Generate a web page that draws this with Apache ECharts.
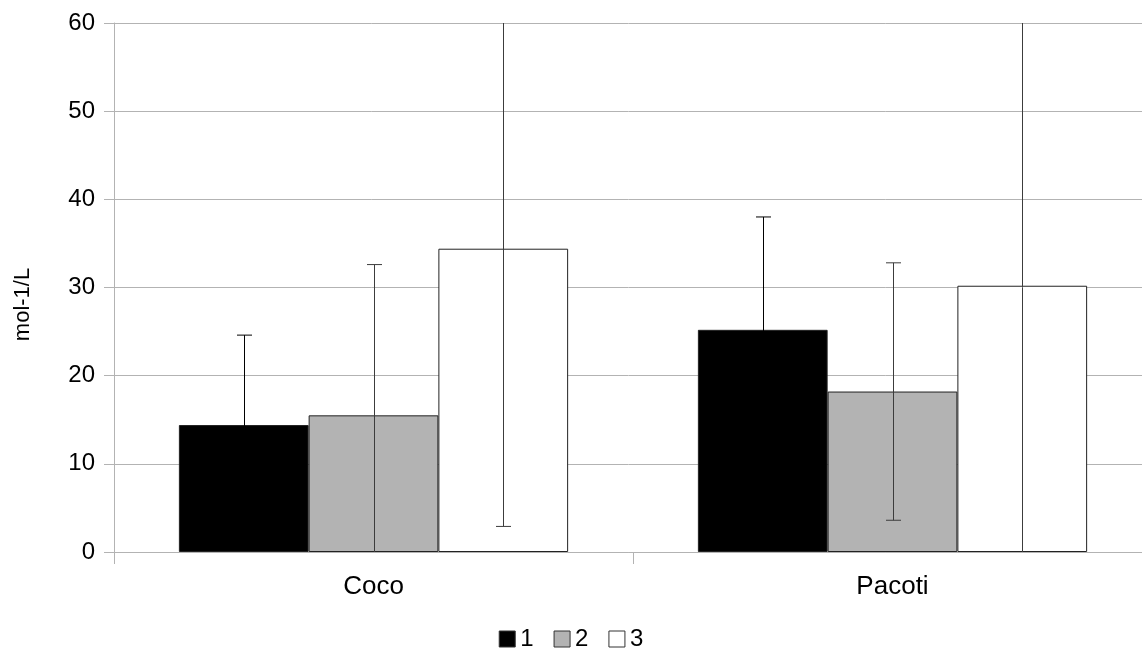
<!DOCTYPE html>
<html><head><meta charset="utf-8">
<script src="https://cdn.jsdelivr.net/npm/echarts@6/dist/echarts.min.js"></script>
<style>html,body{margin:0;padding:0;background:#fff}#c{width:1142px;height:651px}</style>
</head><body><div id="c"></div>
<script>
const categories = ['Coco', 'Pacoti'];
const seriesNames = ['1', '2', '3'];
const values1 = [14.4, 25.2];
const values2 = [15.5, 18.2];
const values3 = [34.4, 30.2];
const errors1 = [10.2, 12.8];
const errors2 = [17.1, 14.6];
const errors3 = [31.5, 32.0];
const colors = ['#000000', '#b3b3b3', '#ffffff'];
const errColors = ['#000000', '#3c3c3c', '#3c3c3c'];
const yTicks = [0, 10, 20, 30, 40, 50, 60];

const values = [values1, values2, values3];
const errors = [errors1, errors2, errors3];
const FONT = '"Liberation Sans", Arial, sans-serif';

const chart = echarts.init(document.getElementById('c'), null, {renderer: 'canvas'});

const barSeries = seriesNames.map((n, i) => ({
  name: n, type: 'bar', data: values[i],
  barGap: '0%', barCategoryGap: '25%',
  itemStyle: {color: colors[i], borderColor: '#222', borderWidth: 1},
  emphasis: {disabled: true}, z: 2
}));

const errData = [];
for (let s = 0; s < 3; s++) for (let c = 0; c < categories.length; c++) {
  errData.push([c, values[s][c], errors[s][c], s]);
}

const errSeries = {
  type: 'custom', name: 'err', z: 5, silent: true,
  data: errData,
  encode: {x: 0, y: 1},
  renderItem: function (params, api) {
    const c = api.value(0), v = api.value(1), e = api.value(2), s = api.value(3);
    const band = api.size([1, 0])[0];
    const bw = band * 0.75 / 3;
    const cx = Math.round(api.coord([c, 0])[0] + (s - 1) * bw) + 0.5;
    const cs = params.coordSys;
    const top = api.coord([c, v + e])[1];
    const bot = api.coord([c, v - e])[1];
    const yMin = cs.y, yMax = cs.y + cs.height;
    const t = Math.max(top, yMin), b = Math.min(bot, yMax);
    const style = {stroke: errColors[s], lineWidth: 1};
    const kids = [{type: 'line', shape: {x1: cx, y1: t, x2: cx, y2: b}, style: style}];
    const hw = 7.5;
    if (top >= yMin) kids.push({type: 'line', shape: {x1: cx - hw, y1: top, x2: cx + hw, y2: top}, style: style});
    if (bot <= yMax) kids.push({type: 'line', shape: {x1: cx - hw, y1: bot, x2: cx + hw, y2: bot}, style: style});
    return {type: 'group', children: kids};
  }
};

chart.setOption({
  animation: false,
  backgroundColor: '#fff',
  grid: {left: 114, width: 1038, top: 23, height: 529, containLabel: false, outerBoundsMode: 'none'},
  legend: {
    data: seriesNames.map((n, i) => ({name: n, itemStyle: {color: colors[i], borderColor: '#333', borderWidth: 1}})),
    top: 622, left: 'center', icon: 'rect', itemWidth: 16, itemHeight: 16, itemGap: 20,
    textStyle: {fontFamily: FONT, fontSize: 24, color: '#000'}
  },
  xAxis: {
    type: 'category', data: categories,
    axisLine: {lineStyle: {color: '#b3b3b3'}},
    axisTick: {show: true, length: 12, alignWithLabel: false, lineStyle: {color: '#b3b3b3'}},
    axisLabel: {fontFamily: FONT, fontSize: 26, color: '#000', margin: 22}
  },
  yAxis: {
    type: 'value', min: 0, max: 60, interval: 10,
    name: 'mol-1/L', nameLocation: 'middle', nameGap: 80, nameRotate: 90,
    nameTextStyle: {fontFamily: FONT, fontSize: 22, color: '#000', padding: [0, 34, 0, 0]},
    axisLine: {show: true, lineStyle: {color: '#b3b3b3'}},
    axisTick: {show: true, length: 10, lineStyle: {color: '#b3b3b3'}},
    axisLabel: {fontFamily: FONT, fontSize: 24, color: '#000', margin: 19,
      formatter: v => yTicks.includes(v) ? String(v) : ''},
    splitLine: {lineStyle: {color: '#b3b3b3'}}
  },
  series: [...barSeries, errSeries]
});
</script></body></html>
